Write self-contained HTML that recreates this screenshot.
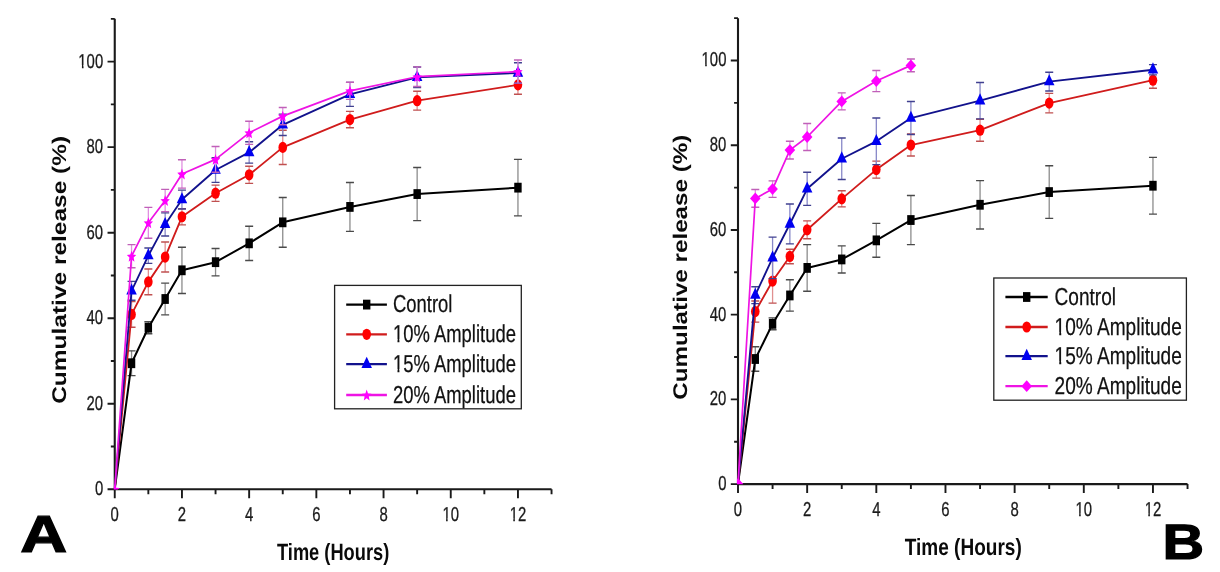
<!DOCTYPE html>
<html><head><meta charset="utf-8"><title>Cumulative release charts</title>
<style>
html,body{margin:0;padding:0;background:#fff;}
body{width:1220px;height:572px;overflow:hidden;}
svg{display:block;will-change:transform;filter:blur(0.35px);}
text{font-family:"Liberation Sans",sans-serif;text-rendering:geometricPrecision;}
.tk{font-size:20.1px;fill:#1a1a1a;stroke:#1a1a1a;stroke-width:0.3px;}
.lg{font-size:24.5px;fill:#111;stroke:#111;stroke-width:0.25px;}
.ttl{font-size:23.6px;font-weight:bold;fill:#0a0a0a;}
.yt{font-size:19.8px;font-weight:bold;fill:#0a0a0a;}
.pl{font-size:52.1px;font-weight:bold;fill:#000;stroke:#000;stroke-width:1.2px;}
.pl2{font-size:49.7px;font-weight:bold;fill:#000;stroke:#000;stroke-width:1.2px;}
</style></head>
<body>
<svg width="1220" height="572" viewBox="0 0 1220 572">
<rect width="1220" height="572" fill="#fff"/>
<path d="M114.75,18.83 V489.30 H551.55" fill="none" stroke="#1a1a1a" stroke-width="2.1"/>
<path d="M107.55,489.30H114.75M110.85,446.53H114.75M107.55,403.76H114.75M110.85,360.99H114.75M107.55,318.22H114.75M110.85,275.45H114.75M107.55,232.68H114.75M110.85,189.91H114.75M107.55,147.14H114.75M110.85,104.37H114.75M107.55,61.60H114.75M110.85,18.83H114.75M114.75,489.30V498.30M148.35,489.30V494.30M181.95,489.30V498.30M215.55,489.30V494.30M249.15,489.30V498.30M282.75,489.30V494.30M316.35,489.30V498.30M349.95,489.30V494.30M383.55,489.30V498.30M417.15,489.30V494.30M450.75,489.30V498.30M484.35,489.30V494.30M517.95,489.30V498.30M551.55,489.30V494.30" fill="none" stroke="#1a1a1a" stroke-width="1.9"/>
<clipPath id="clipA"><rect x="113.65" y="0" width="456.80" height="489.50"/></clipPath>
<g clip-path="url(#clipA)">
<path d="M131.55,350.83V375.67M148.35,321.71V333.70M165.15,283.16V314.85M181.95,247.18V293.44M215.55,248.47V275.88M249.15,226.20V260.46M282.75,197.50V247.18M349.95,182.51V231.34M417.15,167.52V220.63M517.95,159.38V215.92" fill="none" stroke="#8c8c8c" stroke-width="1.3"/>
<path d="M127.55,350.83H135.55M127.55,375.67H135.55M144.35,321.71H152.35M144.35,333.70H152.35M161.15,283.16H169.15M161.15,314.85H169.15M177.95,247.18H185.95M177.95,293.44H185.95M211.55,248.47H219.55M211.55,275.88H219.55M245.15,226.20H253.15M245.15,260.46H253.15M278.75,197.50H286.75M278.75,247.18H286.75M345.95,182.51H353.95M345.95,231.34H353.95M413.15,167.52H421.15M413.15,220.63H421.15M513.95,159.38H521.95M513.95,215.92H521.95" fill="none" stroke="#4a4a4a" stroke-width="1.4"/>
<polyline points="114.75,489.30 131.55,363.25 148.35,327.70 165.15,299.01 181.95,270.31 215.55,262.17 249.15,243.33 282.75,222.34 349.95,206.92 417.15,194.07 517.95,187.65" fill="none" stroke="#000000" stroke-width="2.0" stroke-linejoin="round"/>
<rect x="127.85" y="358.35" width="7.4" height="9.8" fill="#000000"/>
<rect x="144.65" y="322.80" width="7.4" height="9.8" fill="#000000"/>
<rect x="161.45" y="294.11" width="7.4" height="9.8" fill="#000000"/>
<rect x="178.25" y="265.41" width="7.4" height="9.8" fill="#000000"/>
<rect x="211.85" y="257.27" width="7.4" height="9.8" fill="#000000"/>
<rect x="245.45" y="238.43" width="7.4" height="9.8" fill="#000000"/>
<rect x="279.05" y="217.44" width="7.4" height="9.8" fill="#000000"/>
<rect x="346.25" y="202.02" width="7.4" height="9.8" fill="#000000"/>
<rect x="413.45" y="189.17" width="7.4" height="9.8" fill="#000000"/>
<rect x="514.25" y="182.75" width="7.4" height="9.8" fill="#000000"/>
<path d="M131.55,301.58V327.27M148.35,269.03V294.72M165.15,242.04V272.02M181.95,208.64V224.91M215.55,185.08V201.35M249.15,166.23V183.37M282.75,130.26V164.52M349.95,111.41V127.69M417.15,91.28V110.13M517.95,75.43V94.28" fill="none" stroke="#e09090" stroke-width="1.3"/>
<path d="M127.55,301.58H135.55M127.55,327.27H135.55M144.35,269.03H152.35M144.35,294.72H152.35M161.15,242.04H169.15M161.15,272.02H169.15M177.95,208.64H185.95M177.95,224.91H185.95M211.55,185.08H219.55M211.55,201.35H219.55M245.15,166.23H253.15M245.15,183.37H253.15M278.75,130.26H286.75M278.75,164.52H286.75M345.95,111.41H353.95M345.95,127.69H353.95M413.15,91.28H421.15M413.15,110.13H421.15M513.95,75.43H521.95M513.95,94.28H521.95" fill="none" stroke="#c05050" stroke-width="1.4"/>
<polyline points="114.75,489.30 131.55,314.43 148.35,281.87 165.15,257.03 181.95,216.77 215.55,193.22 249.15,174.80 282.75,147.39 349.95,119.55 417.15,100.70 517.95,84.86" fill="none" stroke="#d01c1c" stroke-width="1.85" stroke-linejoin="round"/>
<ellipse cx="131.55" cy="314.43" rx="4.3" ry="5.6" fill="#ff0000"/>
<ellipse cx="148.35" cy="281.87" rx="4.3" ry="5.6" fill="#ff0000"/>
<ellipse cx="165.15" cy="257.03" rx="4.3" ry="5.6" fill="#ff0000"/>
<ellipse cx="181.95" cy="216.77" rx="4.3" ry="5.6" fill="#ff0000"/>
<ellipse cx="215.55" cy="193.22" rx="4.3" ry="5.6" fill="#ff0000"/>
<ellipse cx="249.15" cy="174.80" rx="4.3" ry="5.6" fill="#ff0000"/>
<ellipse cx="282.75" cy="147.39" rx="4.3" ry="5.6" fill="#ff0000"/>
<ellipse cx="349.95" cy="119.55" rx="4.3" ry="5.6" fill="#ff0000"/>
<ellipse cx="417.15" cy="100.70" rx="4.3" ry="5.6" fill="#ff0000"/>
<ellipse cx="517.95" cy="84.86" rx="4.3" ry="5.6" fill="#ff0000"/>
<path d="M131.55,281.36V300.21M148.35,247.95V263.37M165.15,212.83V235.96M181.95,190.13V208.98M215.55,157.58V182.42M249.15,141.73V163.15M282.75,114.11V135.52M349.95,82.42V106.40M417.15,67.00V87.55M517.95,62.71V83.27" fill="none" stroke="#8888c8" stroke-width="1.3"/>
<path d="M127.55,281.36H135.55M127.55,300.21H135.55M144.35,247.95H152.35M144.35,263.37H152.35M161.15,212.83H169.15M161.15,235.96H169.15M177.95,190.13H185.95M177.95,208.98H185.95M211.55,157.58H219.55M211.55,182.42H219.55M245.15,141.73H253.15M245.15,163.15H253.15M278.75,114.11H286.75M278.75,135.52H286.75M345.95,82.42H353.95M345.95,106.40H353.95M413.15,67.00H421.15M413.15,87.55H421.15M513.95,62.71H521.95M513.95,83.27H521.95" fill="none" stroke="#404090" stroke-width="1.4"/>
<polyline points="114.75,489.30 131.55,290.78 148.35,255.66 165.15,224.40 181.95,199.56 215.55,170.00 249.15,152.44 282.75,124.82 349.95,94.41 417.15,77.28 517.95,72.99" fill="none" stroke="#12128c" stroke-width="1.85" stroke-linejoin="round"/>
<polygon points="131.55,283.38 136.80,294.48 126.30,294.48" fill="#0000f0"/>
<polygon points="148.35,248.26 153.60,259.36 143.10,259.36" fill="#0000f0"/>
<polygon points="165.15,217.00 170.40,228.10 159.90,228.10" fill="#0000f0"/>
<polygon points="181.95,192.16 187.20,203.26 176.70,203.26" fill="#0000f0"/>
<polygon points="215.55,162.60 220.80,173.70 210.30,173.70" fill="#0000f0"/>
<polygon points="249.15,145.04 254.40,156.14 243.90,156.14" fill="#0000f0"/>
<polygon points="282.75,117.42 288.00,128.52 277.50,128.52" fill="#0000f0"/>
<polygon points="349.95,87.01 355.20,98.11 344.70,98.11" fill="#0000f0"/>
<polygon points="417.15,69.88 422.40,80.98 411.90,80.98" fill="#0000f0"/>
<polygon points="517.95,65.59 523.20,76.69 512.70,76.69" fill="#0000f0"/>
<path d="M131.55,244.61V267.74M148.35,207.35V238.19M165.15,189.36V211.63M181.95,159.81V188.08M215.55,146.53V172.23M249.15,121.26V144.39M282.75,107.56V124.69M349.95,82.29V99.42M417.15,66.87V86.57M517.95,60.02V83.14" fill="none" stroke="#e090e0" stroke-width="1.3"/>
<path d="M127.55,244.61H135.55M127.55,267.74H135.55M144.35,207.35H152.35M144.35,238.19H152.35M161.15,189.36H169.15M161.15,211.63H169.15M177.95,159.81H185.95M177.95,188.08H185.95M211.55,146.53H219.55M211.55,172.23H219.55M245.15,121.26H253.15M245.15,144.39H253.15M278.75,107.56H286.75M278.75,124.69H286.75M345.95,82.29H353.95M345.95,99.42H353.95M413.15,66.87H421.15M413.15,86.57H421.15M513.95,60.02H521.95M513.95,83.14H521.95" fill="none" stroke="#c060b8" stroke-width="1.4"/>
<polyline points="114.75,489.30 131.55,256.18 148.35,222.77 165.15,200.50 181.95,173.94 215.55,159.38 249.15,132.83 282.75,116.12 349.95,90.85 417.15,76.72 517.95,71.58" fill="none" stroke="#ee14e4" stroke-width="1.7" stroke-linejoin="round"/>
<polygon points="114.75,483.90 116.05,487.72 119.43,488.05 116.86,490.73 117.64,494.75 114.75,492.60 111.86,494.75 112.64,490.73 110.07,488.05 113.45,487.72" fill="#ff00ff"/>
<polygon points="131.55,250.78 132.85,254.59 136.23,254.92 133.66,257.61 134.44,261.63 131.55,259.48 128.66,261.63 129.44,257.61 126.87,254.92 130.25,254.59" fill="#ff00ff"/>
<polygon points="148.35,217.37 149.65,221.18 153.03,221.51 150.46,224.20 151.24,228.22 148.35,226.07 145.46,228.22 146.24,224.20 143.67,221.51 147.05,221.18" fill="#ff00ff"/>
<polygon points="165.15,195.10 166.45,198.91 169.83,199.24 167.26,201.93 168.04,205.95 165.15,203.80 162.26,205.95 163.04,201.93 160.47,199.24 163.85,198.91" fill="#ff00ff"/>
<polygon points="181.95,168.54 183.25,172.36 186.63,172.69 184.06,175.38 184.84,179.40 181.95,177.24 179.06,179.40 179.84,175.38 177.27,172.69 180.65,172.36" fill="#ff00ff"/>
<polygon points="215.55,153.98 216.85,157.80 220.23,158.13 217.66,160.82 218.44,164.83 215.55,162.68 212.66,164.83 213.44,160.82 210.87,158.13 214.25,157.80" fill="#ff00ff"/>
<polygon points="249.15,127.43 250.45,131.24 253.83,131.57 251.26,134.26 252.04,138.28 249.15,136.13 246.26,138.28 247.04,134.26 244.47,131.57 247.85,131.24" fill="#ff00ff"/>
<polygon points="282.75,110.72 284.05,114.54 287.43,114.87 284.86,117.56 285.64,121.58 282.75,119.42 279.86,121.58 280.64,117.56 278.07,114.87 281.45,114.54" fill="#ff00ff"/>
<polygon points="349.95,85.45 351.25,89.27 354.63,89.60 352.06,92.29 352.84,96.31 349.95,94.15 347.06,96.31 347.84,92.29 345.27,89.60 348.65,89.27" fill="#ff00ff"/>
<polygon points="417.15,71.32 418.45,75.13 421.83,75.46 419.26,78.15 420.04,82.17 417.15,80.02 414.26,82.17 415.04,78.15 412.47,75.46 415.85,75.13" fill="#ff00ff"/>
<polygon points="517.95,66.18 519.25,69.99 522.63,70.33 520.06,73.01 520.84,77.03 517.95,74.88 515.06,77.03 515.84,73.01 513.27,70.33 516.65,69.99" fill="#ff00ff"/>
</g>
<g transform="translate(103.15,495.20) scale(0.74,1)"><text class="tk" x="-11.18">0</text></g>
<g transform="translate(103.15,409.66) scale(0.74,1)"><text class="tk" x="-22.36">20</text></g>
<g transform="translate(103.15,324.12) scale(0.74,1)"><text class="tk" x="-22.36">40</text></g>
<g transform="translate(103.15,238.58) scale(0.74,1)"><text class="tk" x="-22.36">60</text></g>
<g transform="translate(103.15,153.04) scale(0.74,1)"><text class="tk" x="-22.36">80</text></g>
<g transform="translate(103.15,67.50) scale(0.74,1)"><text class="tk" x="-33.54">100</text><rect x="-33.20" y="-2.40" width="4.52" height="4.30" fill="#fff"/><rect x="-26.51" y="-2.40" width="4.37" height="4.30" fill="#fff"/></g>
<g transform="translate(114.75,520.7) scale(0.74,1)"><text class="tk" x="-5.59">0</text></g>
<g transform="translate(181.95,520.7) scale(0.74,1)"><text class="tk" x="-5.59">2</text></g>
<g transform="translate(249.15,520.7) scale(0.74,1)"><text class="tk" x="-5.59">4</text></g>
<g transform="translate(316.35,520.7) scale(0.74,1)"><text class="tk" x="-5.59">6</text></g>
<g transform="translate(383.55,520.7) scale(0.74,1)"><text class="tk" x="-5.59">8</text></g>
<g transform="translate(450.75,520.7) scale(0.74,1)"><text class="tk" x="-11.18">10</text><rect x="-10.85" y="-2.40" width="4.52" height="4.30" fill="#fff"/><rect x="-4.15" y="-2.40" width="4.37" height="4.30" fill="#fff"/></g>
<g transform="translate(517.95,520.7) scale(0.74,1)"><text class="tk" x="-11.18">12</text><rect x="-10.85" y="-2.40" width="4.52" height="4.30" fill="#fff"/><rect x="-4.15" y="-2.40" width="4.37" height="4.30" fill="#fff"/></g>
<rect x="334.6" y="285.4" width="186.70" height="123.40" fill="#fff" stroke="#222" stroke-width="1.3"/>
<path d="M346.2,304.6H386.9" stroke="#000000" stroke-width="2.3"/>
<rect x="363.00" y="299.70" width="7.4" height="9.8" fill="#000000"/>
<g transform="translate(393.0,312.20) scale(0.752,1)"><text class="lg">Control</text></g>
<path d="M346.2,334.3H386.9" stroke="#d01c1c" stroke-width="2.3"/>
<ellipse cx="366.70" cy="334.30" rx="4.3" ry="5.6" fill="#ff0000"/>
<g transform="translate(393.0,341.90) scale(0.752,1)"><text class="lg">10% Amplitude</text><rect x="0.27" y="-2.73" width="5.69" height="4.63" fill="#fff"/><rect x="8.53" y="-2.73" width="5.50" height="4.63" fill="#fff"/></g>
<path d="M346.2,364.2H386.9" stroke="#12128c" stroke-width="2.3"/>
<polygon points="366.70,356.80 371.95,367.90 361.45,367.90" fill="#0000f0"/>
<g transform="translate(393.0,371.80) scale(0.752,1)"><text class="lg">15% Amplitude</text><rect x="0.27" y="-2.73" width="5.69" height="4.63" fill="#fff"/><rect x="8.53" y="-2.73" width="5.50" height="4.63" fill="#fff"/></g>
<path d="M346.2,395.0H386.9" stroke="#ee14e4" stroke-width="2.3"/>
<polygon points="366.70,389.60 368.00,393.42 371.38,393.75 368.81,396.43 369.59,400.45 366.70,398.30 363.81,400.45 364.59,396.43 362.02,393.75 365.40,393.42" fill="#ff00ff"/>
<g transform="translate(393.0,402.60) scale(0.752,1)"><text class="lg">20% Amplitude</text></g>
<path d="M738.00,18.14 V484.10 H1187.54" fill="none" stroke="#1a1a1a" stroke-width="2.1"/>
<path d="M730.80,484.10H738.00M734.10,441.74H738.00M730.80,399.38H738.00M734.10,357.02H738.00M730.80,314.66H738.00M734.10,272.30H738.00M730.80,229.94H738.00M734.10,187.58H738.00M730.80,145.22H738.00M734.10,102.86H738.00M730.80,60.50H738.00M734.10,18.14H738.00M738.00,484.10V493.10M772.58,484.10V489.10M807.16,484.10V493.10M841.74,484.10V489.10M876.32,484.10V493.10M910.90,484.10V489.10M945.48,484.10V493.10M980.06,484.10V489.10M1014.64,484.10V493.10M1049.22,484.10V489.10M1083.80,484.10V493.10M1118.38,484.10V489.10M1152.96,484.10V493.10M1187.54,484.10V489.10" fill="none" stroke="#1a1a1a" stroke-width="1.9"/>
<clipPath id="clipB"><rect x="736.90" y="0" width="469.54" height="484.30"/></clipPath>
<g clip-path="url(#clipB)">
<path d="M755.29,346.72V371.30M772.58,317.91V329.77M789.87,279.78V311.13M807.16,244.61V291.22M841.74,245.88V273.00M876.32,223.42V257.32M910.90,195.46V244.61M980.06,180.63V228.93M1049.22,165.80V218.34M1152.96,157.33V214.10" fill="none" stroke="#8c8c8c" stroke-width="1.3"/>
<path d="M751.29,346.72H759.29M751.29,371.30H759.29M768.58,317.91H776.58M768.58,329.77H776.58M785.87,279.78H793.87M785.87,311.13H793.87M803.16,244.61H811.16M803.16,291.22H811.16M837.74,245.88H845.74M837.74,273.00H845.74M872.32,223.42H880.32M872.32,257.32H880.32M906.90,195.46H914.90M906.90,244.61H914.90M976.06,180.63H984.06M976.06,228.93H984.06M1045.22,165.80H1053.22M1045.22,218.34H1053.22M1148.96,157.33H1156.96M1148.96,214.10H1156.96" fill="none" stroke="#4a4a4a" stroke-width="1.4"/>
<polyline points="738.00,484.10 755.29,359.01 772.58,323.84 789.87,295.45 807.16,267.91 841.74,259.44 876.32,240.37 910.90,220.03 980.06,204.78 1049.22,192.07 1152.96,185.72" fill="none" stroke="#000000" stroke-width="2.0" stroke-linejoin="round"/>
<rect x="751.59" y="354.11" width="7.4" height="9.8" fill="#000000"/>
<rect x="768.88" y="318.94" width="7.4" height="9.8" fill="#000000"/>
<rect x="786.17" y="290.55" width="7.4" height="9.8" fill="#000000"/>
<rect x="803.46" y="263.01" width="7.4" height="9.8" fill="#000000"/>
<rect x="838.04" y="254.54" width="7.4" height="9.8" fill="#000000"/>
<rect x="872.62" y="235.47" width="7.4" height="9.8" fill="#000000"/>
<rect x="907.20" y="215.13" width="7.4" height="9.8" fill="#000000"/>
<rect x="976.36" y="199.88" width="7.4" height="9.8" fill="#000000"/>
<rect x="1045.52" y="187.17" width="7.4" height="9.8" fill="#000000"/>
<rect x="1149.26" y="180.82" width="7.4" height="9.8" fill="#000000"/>
<path d="M755.29,300.96V322.15M772.58,259.02V303.08M789.87,249.27V263.68M807.16,220.88V238.68M841.74,190.80V206.90M876.32,161.14V178.09M910.90,134.02V156.06M980.06,119.19V141.23M1049.22,93.35V112.84M1152.96,72.16V88.26" fill="none" stroke="#e09090" stroke-width="1.3"/>
<path d="M751.29,300.96H759.29M751.29,322.15H759.29M768.58,259.02H776.58M768.58,303.08H776.58M785.87,249.27H793.87M785.87,263.68H793.87M803.16,220.88H811.16M803.16,238.68H811.16M837.74,190.80H845.74M837.74,206.90H845.74M872.32,161.14H880.32M872.32,178.09H880.32M906.90,134.02H914.90M906.90,156.06H914.90M976.06,119.19H984.06M976.06,141.23H984.06M1045.22,93.35H1053.22M1045.22,112.84H1053.22M1148.96,72.16H1156.96M1148.96,88.26H1156.96" fill="none" stroke="#c05050" stroke-width="1.4"/>
<polyline points="738.00,484.10 755.29,311.55 772.58,281.05 789.87,256.47 807.16,229.78 841.74,198.85 876.32,169.61 910.90,145.04 980.06,130.21 1049.22,103.09 1152.96,80.21" fill="none" stroke="#d01c1c" stroke-width="1.85" stroke-linejoin="round"/>
<ellipse cx="755.29" cy="311.55" rx="4.3" ry="5.6" fill="#ff0000"/>
<ellipse cx="772.58" cy="281.05" rx="4.3" ry="5.6" fill="#ff0000"/>
<ellipse cx="789.87" cy="256.47" rx="4.3" ry="5.6" fill="#ff0000"/>
<ellipse cx="807.16" cy="229.78" rx="4.3" ry="5.6" fill="#ff0000"/>
<ellipse cx="841.74" cy="198.85" rx="4.3" ry="5.6" fill="#ff0000"/>
<ellipse cx="876.32" cy="169.61" rx="4.3" ry="5.6" fill="#ff0000"/>
<ellipse cx="910.90" cy="145.04" rx="4.3" ry="5.6" fill="#ff0000"/>
<ellipse cx="980.06" cy="130.21" rx="4.3" ry="5.6" fill="#ff0000"/>
<ellipse cx="1049.22" cy="103.09" rx="4.3" ry="5.6" fill="#ff0000"/>
<ellipse cx="1152.96" cy="80.21" rx="4.3" ry="5.6" fill="#ff0000"/>
<path d="M755.29,286.68V303.63M772.58,237.11V278.63M789.87,204.06V243.89M807.16,172.28V205.33M841.74,137.96V179.49M876.32,118.05V164.66M910.90,101.53V134.57M980.06,82.46V118.90M1049.22,72.29V90.93M1152.96,64.66V74.83" fill="none" stroke="#8888c8" stroke-width="1.3"/>
<path d="M751.29,286.68H759.29M751.29,303.63H759.29M768.58,237.11H776.58M768.58,278.63H776.58M785.87,204.06H793.87M785.87,243.89H793.87M803.16,172.28H811.16M803.16,205.33H811.16M837.74,137.96H845.74M837.74,179.49H845.74M872.32,118.05H880.32M872.32,164.66H880.32M906.90,101.53H914.90M906.90,134.57H914.90M976.06,82.46H984.06M976.06,118.90H984.06M1045.22,72.29H1053.22M1045.22,90.93H1053.22M1148.96,64.66H1156.96M1148.96,74.83H1156.96" fill="none" stroke="#404090" stroke-width="1.4"/>
<polyline points="738.00,484.10 755.29,295.16 772.58,257.87 789.87,223.98 807.16,188.81 841.74,158.73 876.32,141.35 910.90,118.05 980.06,100.68 1049.22,81.61 1152.96,69.75" fill="none" stroke="#12128c" stroke-width="1.85" stroke-linejoin="round"/>
<polygon points="755.29,287.76 760.54,298.86 750.04,298.86" fill="#0000f0"/>
<polygon points="772.58,250.47 777.83,261.57 767.33,261.57" fill="#0000f0"/>
<polygon points="789.87,216.58 795.12,227.68 784.62,227.68" fill="#0000f0"/>
<polygon points="807.16,181.41 812.41,192.51 801.91,192.51" fill="#0000f0"/>
<polygon points="841.74,151.33 846.99,162.43 836.49,162.43" fill="#0000f0"/>
<polygon points="876.32,133.95 881.57,145.05 871.07,145.05" fill="#0000f0"/>
<polygon points="910.90,110.65 916.15,121.75 905.65,121.75" fill="#0000f0"/>
<polygon points="980.06,93.28 985.31,104.38 974.81,104.38" fill="#0000f0"/>
<polygon points="1049.22,74.21 1054.47,85.31 1043.97,85.31" fill="#0000f0"/>
<polygon points="1152.96,62.35 1158.21,73.45 1147.71,73.45" fill="#0000f0"/>
<path d="M755.29,189.53V207.32M772.58,180.84V197.37M789.87,141.23V159.02M807.16,123.43V150.55M841.74,92.92V109.87M876.32,70.47V91.65M910.90,59.03V71.74" fill="none" stroke="#e090e0" stroke-width="1.3"/>
<path d="M751.29,189.53H759.29M751.29,207.32H759.29M768.58,180.84H776.58M768.58,197.37H776.58M785.87,141.23H793.87M785.87,159.02H793.87M803.16,123.43H811.16M803.16,150.55H811.16M837.74,92.92H845.74M837.74,109.87H845.74M872.32,70.47H880.32M872.32,91.65H880.32M906.90,59.03H914.90M906.90,71.74H914.90" fill="none" stroke="#c060b8" stroke-width="1.4"/>
<polyline points="738.00,484.10 755.29,198.43 772.58,189.10 789.87,150.12 807.16,136.99 841.74,101.40 876.32,81.06 910.90,65.38" fill="none" stroke="#ee14e4" stroke-width="1.7" stroke-linejoin="round"/>
<polygon points="738.00,478.20 743.30,484.10 738.00,490.00 732.70,484.10" fill="#ff00ff"/>
<polygon points="755.29,192.53 760.59,198.43 755.29,204.33 749.99,198.43" fill="#ff00ff"/>
<polygon points="772.58,183.20 777.88,189.10 772.58,195.00 767.28,189.10" fill="#ff00ff"/>
<polygon points="789.87,144.22 795.17,150.12 789.87,156.02 784.57,150.12" fill="#ff00ff"/>
<polygon points="807.16,131.09 812.46,136.99 807.16,142.89 801.86,136.99" fill="#ff00ff"/>
<polygon points="841.74,95.50 847.04,101.40 841.74,107.30 836.44,101.40" fill="#ff00ff"/>
<polygon points="876.32,75.16 881.62,81.06 876.32,86.96 871.02,81.06" fill="#ff00ff"/>
<polygon points="910.90,59.48 916.20,65.38 910.90,71.28 905.60,65.38" fill="#ff00ff"/>
</g>
<g transform="translate(726.40,490.00) scale(0.74,1)"><text class="tk" x="-11.18">0</text></g>
<g transform="translate(726.40,405.28) scale(0.74,1)"><text class="tk" x="-22.36">20</text></g>
<g transform="translate(726.40,320.56) scale(0.74,1)"><text class="tk" x="-22.36">40</text></g>
<g transform="translate(726.40,235.84) scale(0.74,1)"><text class="tk" x="-22.36">60</text></g>
<g transform="translate(726.40,151.12) scale(0.74,1)"><text class="tk" x="-22.36">80</text></g>
<g transform="translate(726.40,66.40) scale(0.74,1)"><text class="tk" x="-33.54">100</text><rect x="-33.20" y="-2.40" width="4.52" height="4.30" fill="#fff"/><rect x="-26.51" y="-2.40" width="4.37" height="4.30" fill="#fff"/></g>
<g transform="translate(738.00,515.8) scale(0.74,1)"><text class="tk" x="-5.59">0</text></g>
<g transform="translate(807.16,515.8) scale(0.74,1)"><text class="tk" x="-5.59">2</text></g>
<g transform="translate(876.32,515.8) scale(0.74,1)"><text class="tk" x="-5.59">4</text></g>
<g transform="translate(945.48,515.8) scale(0.74,1)"><text class="tk" x="-5.59">6</text></g>
<g transform="translate(1014.64,515.8) scale(0.74,1)"><text class="tk" x="-5.59">8</text></g>
<g transform="translate(1083.80,515.8) scale(0.74,1)"><text class="tk" x="-11.18">10</text><rect x="-10.85" y="-2.40" width="4.52" height="4.30" fill="#fff"/><rect x="-4.15" y="-2.40" width="4.37" height="4.30" fill="#fff"/></g>
<g transform="translate(1152.96,515.8) scale(0.74,1)"><text class="tk" x="-11.18">12</text><rect x="-10.85" y="-2.40" width="4.52" height="4.30" fill="#fff"/><rect x="-4.15" y="-2.40" width="4.37" height="4.30" fill="#fff"/></g>
<rect x="993.8" y="278.0" width="192.60" height="122.20" fill="#fff" stroke="#222" stroke-width="1.3"/>
<path d="M1005.4,297.0H1047.7" stroke="#000000" stroke-width="2.3"/>
<rect x="1023.00" y="292.10" width="7.4" height="9.8" fill="#000000"/>
<g transform="translate(1054.6,304.60) scale(0.778,1)"><text class="lg">Control</text></g>
<path d="M1005.4,327.0H1047.7" stroke="#d01c1c" stroke-width="2.3"/>
<ellipse cx="1026.70" cy="327.00" rx="4.3" ry="5.6" fill="#ff0000"/>
<g transform="translate(1054.6,334.60) scale(0.778,1)"><text class="lg">10% Amplitude</text><rect x="0.27" y="-2.73" width="5.69" height="4.63" fill="#fff"/><rect x="8.53" y="-2.73" width="5.50" height="4.63" fill="#fff"/></g>
<path d="M1005.4,356.2H1047.7" stroke="#12128c" stroke-width="2.3"/>
<polygon points="1026.70,348.80 1031.95,359.90 1021.45,359.90" fill="#0000f0"/>
<g transform="translate(1054.6,363.80) scale(0.778,1)"><text class="lg">15% Amplitude</text><rect x="0.27" y="-2.73" width="5.69" height="4.63" fill="#fff"/><rect x="8.53" y="-2.73" width="5.50" height="4.63" fill="#fff"/></g>
<path d="M1005.4,386.2H1047.7" stroke="#ee14e4" stroke-width="2.3"/>
<polygon points="1026.70,380.30 1032.00,386.20 1026.70,392.10 1021.40,386.20" fill="#ff00ff"/>
<g transform="translate(1054.6,393.80) scale(0.778,1)"><text class="lg">20% Amplitude</text></g>
<text class="ttl" transform="translate(277.0,559.5) scale(0.7734,1)">Time (Hours)</text>
<text class="ttl" transform="translate(904.8,554.5) scale(0.806,1)">Time (Hours)</text>
<text class="yt" transform="translate(66.2,403.8) rotate(-90) scale(1.237,1)">Cumulative release (%)</text>
<text class="yt" transform="translate(687.4,399.7) rotate(-90) scale(1.224,1)">Cumulative release (%)</text>
<text class="pl" transform="translate(20.3,552.0) scale(1.248,1)">A</text>
<text class="pl2" transform="translate(1162.6,559.0) scale(1.16,1)">B</text>
</svg>
</body></html>
